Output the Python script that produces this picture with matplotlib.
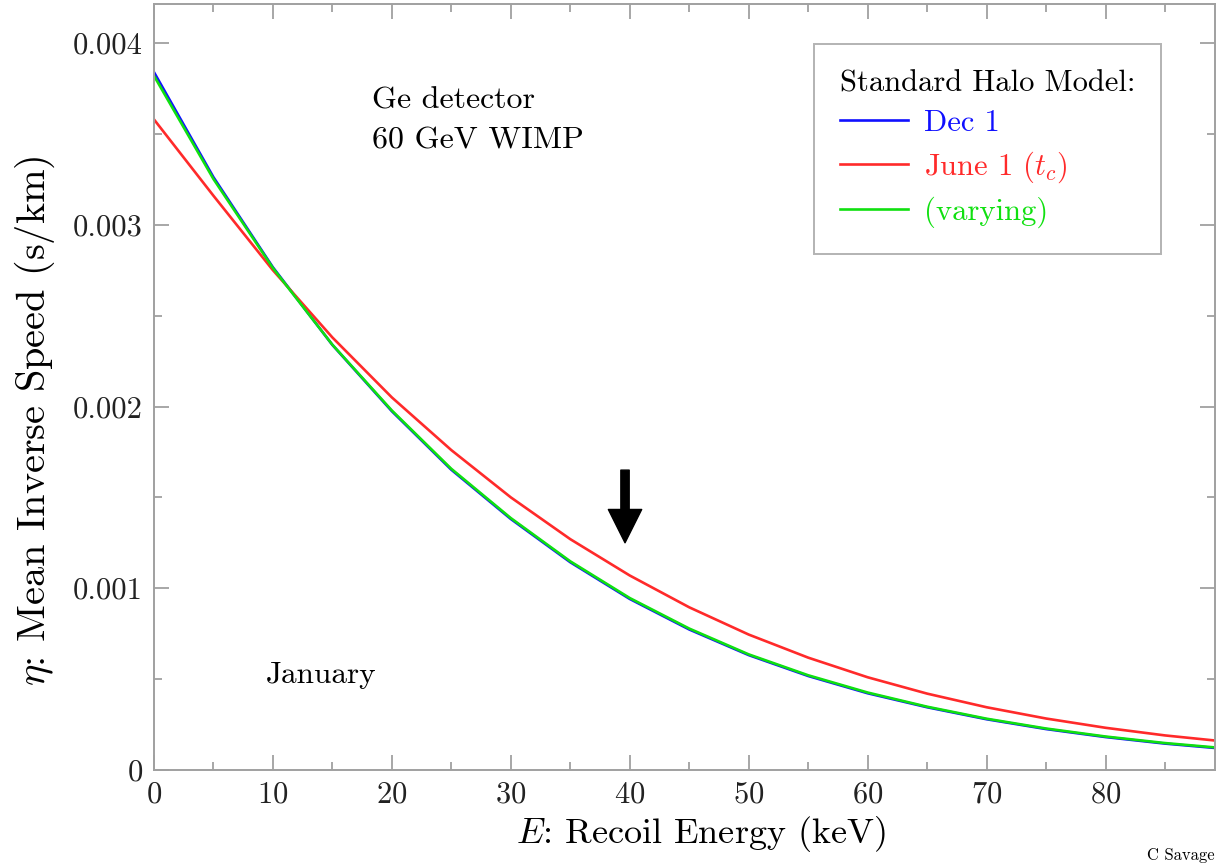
import matplotlib
matplotlib.use("Agg")
import matplotlib.pyplot as plt
from matplotlib.ticker import MultipleLocator, FuncFormatter

plt.rcParams['font.family'] = ['cmr10', 'DejaVu Serif']
plt.rcParams['mathtext.fontset'] = 'cm'
plt.rcParams['axes.formatter.use_mathtext'] = True

# recoil energy grid (keV)
energy = [0, 5, 10, 15, 20, 25, 30, 35, 40, 45, 50, 55, 60, 65, 70, 75, 80, 85, 89.2]
# mean inverse speed (s/km)
eta_dec = [0.00384, 0.003262, 0.002766, 0.002339, 0.001974, 0.001652, 0.001381, 0.001143,
           0.000941, 0.000773, 0.000632, 0.000517, 0.000422, 0.000345, 0.000279, 0.000225,
           0.000181, 0.000145, 0.000121]
eta_jun = [0.00358, 0.00316, 0.00275, 0.00238, 0.00205, 0.00176, 0.00150, 0.00127,
           0.00107, 0.000895, 0.000745, 0.000618, 0.000510, 0.000420, 0.000345, 0.000283,
           0.000232, 0.000190, 0.000162]
eta_var = [0.00382, 0.003252, 0.002762, 0.002340, 0.001978, 0.001657, 0.001386, 0.001148,
           0.000946, 0.000778, 0.000636, 0.000521, 0.000426, 0.000348, 0.000282, 0.000228,
           0.000184, 0.000148, 0.000124]

labels = ['Dec 1', r'June 1 ($t_c$)', '(varying)']
colors = ['#1010ff', '#ff2a2a', '#10e010']

fig = plt.figure(figsize=(12.17, 8.66), dpi=100)
ax = fig.add_axes([0.1265, 0.1109, 0.8719, 0.8845])

ax.plot(energy, eta_dec, color=colors[0], lw=1.9, label=labels[0])
ax.plot(energy, eta_jun, color=colors[1], lw=1.9, label=labels[1])
ax.plot(energy, eta_var, color=colors[2], lw=1.9, label=labels[2])

ax.set_xlim(0, 89.2)
ax.set_ylim(0, 0.004215)

ax.xaxis.set_major_locator(MultipleLocator(10))
ax.xaxis.set_minor_locator(MultipleLocator(5))
ax.yaxis.set_major_locator(MultipleLocator(0.001))
ax.yaxis.set_minor_locator(MultipleLocator(0.0005))
ax.yaxis.set_major_formatter(FuncFormatter(lambda v, p: '0' if abs(v) < 1e-9 else '%.3f' % v))

ax.tick_params(which='both', direction='in', top=True, right=True, color='#a0a0a0',
               width=1.3, labelsize=22, labelcolor='#222222')
ax.tick_params(which='major', length=11, pad=8)
ax.tick_params(which='minor', length=6)
for s in ax.spines.values():
    s.set_color('#a0a0a0')
    s.set_linewidth(1.4)

ax.set_xlabel(r'$E$: Recoil Energy (keV)', fontsize=26)
ax.set_ylabel(r'$\eta$: Mean Inverse Speed (s/km)', fontsize=29)
ax.xaxis.set_label_coords(0.5155, -0.058)
ax.yaxis.set_label_coords(-0.091, 0.456)

ax.text(18.3, 0.00368, 'Ge detector', fontsize=23, va='center')
ax.text(18.3, 0.00346, '60 GeV WIMP', fontsize=23, va='center')
ax.text(9.4, 0.00052, 'January', fontsize=22.5, va='center')

ax.annotate('', xy=(39.6, 0.00125), xytext=(39.6, 0.00165),
            arrowprops=dict(facecolor='black', edgecolor='black', width=6,
                            headwidth=24, headlength=24))

leg = ax.legend(loc='upper right', bbox_to_anchor=(0.949, 0.948), borderaxespad=0,
                title='Standard Halo Model:', fontsize=22, title_fontsize=22,
                frameon=True, fancybox=False, handlelength=2.25, handletextpad=0.5,
                labelspacing=0.4, borderpad=0.85, labelcolor='linecolor')
leg._legend_box.align = 'left'
leg.get_frame().set_edgecolor('#a0a0a0')
leg.get_frame().set_linewidth(1.4)

fig.text(0.998, 0.0125, 'C Savage', fontsize=12, ha='right', va='center')

fig.savefig('out.png', dpi=100)
